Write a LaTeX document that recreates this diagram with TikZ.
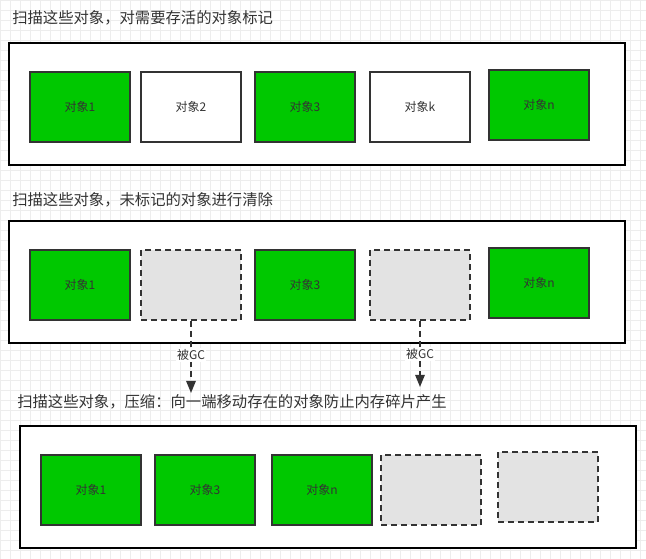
\documentclass[tikz,border=0pt]{standalone}
\usepackage{fontspec}
\setmainfont{Noto Sans CJK SC}
\usetikzlibrary{arrows.meta}
\definecolor{grn}{HTML}{00C800}
\definecolor{ink}{HTML}{333333}
\definecolor{gry}{HTML}{E3E3E3}
\definecolor{gridc}{HTML}{EDEDED}
\tikzset{
  cont/.style={draw=black,line width=1.3pt,fill=white},
  obj/.style={draw=ink,line width=1.3pt,minimum width=100*0.75pt,minimum height=70*0.75pt,inner sep=0pt,font=\fontsize{9}{10}\selectfont,text=ink},
  live/.style={obj,fill=grn},
  plain/.style={obj,fill=white},
  dead/.style={obj,fill=gry,dashed,dash pattern=on 4.5pt off 3pt},
  ttl/.style={anchor=west,font=\fontsize{11.5}{13}\selectfont,text=ink,inner sep=0pt},
  gc/.style={draw=ink,line width=1.3pt,dash pattern=on 4.5pt off 3pt,-{Triangle[length=9pt,width=7pt]}},
  lbl/.style={fill=white,inner sep=1pt,font=\fontsize{9}{10}\selectfont,text=ink}
}
\begin{document}
\begin{tikzpicture}[x=0.75pt,y=-0.75pt]
\useasboundingbox (0,0) rectangle (646,559);
\fill[white] (0,0) rectangle (646,559);
\draw[gridc,line width=0.5pt,step=7.5pt] (0,0) grid (646,559);
\node[ttl] (t1) at (12,18) {扫描这些对象，对需要存活的对象标记};
\draw[cont] (9,43) rectangle (625,165);
\node[live]  (a1) at (80,107) {对象1};
\node[plain] (a2) at (191,107) {对象2};
\node[live]  (a3) at (305,107) {对象3};
\node[plain] (ak) at (420,107) {对象k};
\node[live]  (an) at (539,105) {对象n};
\node[ttl] (t2) at (12,200) {扫描这些对象，未标记的对象进行清除};
\draw[cont] (9,221) rectangle (625,343);
\node[live] (b1) at (80,285) {对象1};
\node[dead] (b2) at (191,285) {};
\node[live] (b3) at (305,285) {对象3};
\node[dead] (bk) at (420,285) {};
\node[live] (bn) at (539,283) {对象n};
\coordinate (e1) at (191,393);
\coordinate (e2) at (420,387);
\draw[gc] (b2.south) -- (e1) node[lbl,pos=0.47] {被GC};
\draw[gc] (bk.south) -- (e2) node[lbl,pos=0.5] {被GC};
\node[ttl] (t3) at (17,402) {扫描这些对象，压缩：向一端移动存在的对象防止内存碎片产生};
\draw[cont] (20,426) rectangle (636,548);
\node[live] (c1) at (91,490) {对象1};
\node[live] (c3) at (205,490) {对象3};
\node[live] (cn) at (322,490) {对象n};
\node[dead] (c4) at (431,490) {};
\node[dead] (c5) at (548,487) {};
\end{tikzpicture}
\end{document}
